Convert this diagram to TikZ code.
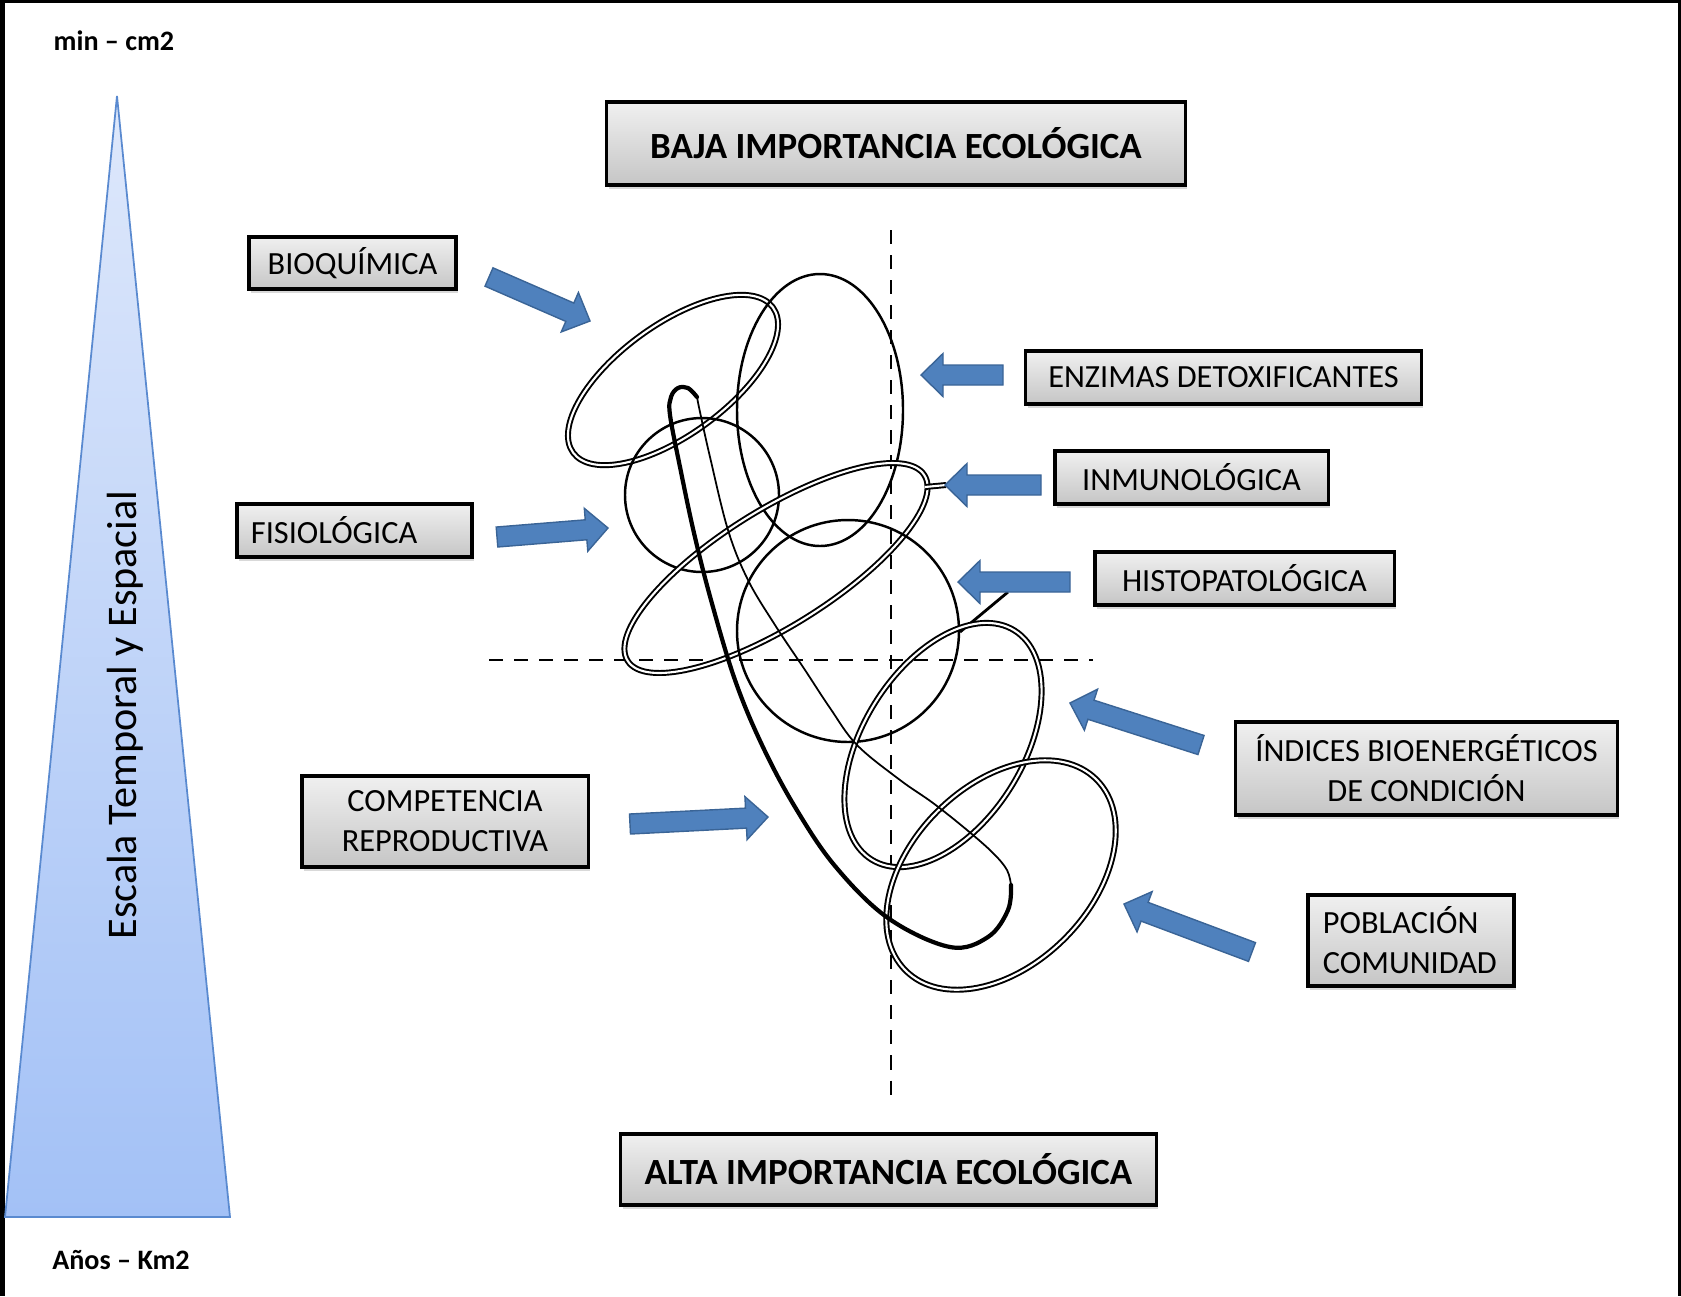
\documentclass[tikz,border=0pt]{standalone}
\usepackage{fontspec}
\setmainfont{Carlito}
\usetikzlibrary{calc,shadows}

\definecolor{azulflecha}{HTML}{4F81BD}
\definecolor{bordeflecha}{HTML}{3A6496}
\definecolor{azulclaro}{HTML}{DEE8FB}
\definecolor{azulfuerte}{HTML}{A3C1F6}
\definecolor{bordeazul}{HTML}{5A8AD0}

% flecha de bloque desde #1 hasta #2
\newcommand{\flecha}[2]{%
  \coordinate (fh) at ($(#2)!0.22cm!(#1)$);
  \filldraw[fill=azulflecha, draw=bordeflecha, line width=0.4pt]
    ($(#1)!0.10cm!90:(#2)$) -- ($(fh)!0.10cm!-90:(#1)$) -- ($(fh)!0.215cm!-90:(#1)$)
    -- (#2) -- ($(fh)!0.215cm!90:(#1)$) -- ($(fh)!0.10cm!90:(#1)$)
    -- ($(#1)!0.10cm!-90:(#2)$) -- cycle;
}

\begin{document}
\begin{tikzpicture}[x=0.01cm, y=-0.01cm,
    caja/.style={draw, line width=0.9pt, top color=gray!12, bottom color=gray!45,
      inner sep=0pt, align=center, font=\fontsize{9.2}{11.4}\selectfont,
      drop shadow={shadow xshift=0.6pt, shadow yshift=-1.2pt, opacity=0.3}},
    titulo/.style={font=\bfseries\fontsize{10.5}{12}\selectfont},
    doble/.style={draw, line width=0.55pt, double=white, double distance=0.6pt},
    linea/.style={draw, line width=0.7pt},
    eje/.style={dash pattern=on 0.14cm off 0.11cm, line width=0.6pt}]

    \useasboundingbox (0,0) rectangle (1681,1296);

    % marco
    \fill (0,0) rectangle (5,1296);
    \fill (0,0) rectangle (1681,3);
    \fill (1678,0) rectangle (1681,1296);

    % escala temporal y espacial
    \filldraw[top color=azulclaro, bottom color=azulfuerte, draw=bordeazul, line width=0.5pt]
        (117,96) -- (230,1217) -- (5,1217) -- cycle;
    \node[rotate=90, font=\fontsize{12}{14}\selectfont] (escala) at (125,715) {Escala Temporal y Espacial};
    \node[font=\bfseries\fontsize{8}{10}\selectfont] (minimo) at (114,41) {min – cm2};
    \node[font=\bfseries\fontsize{8}{10}\selectfont] (maximo) at (121,1260) {Años – Km2};

    % ejes
    \draw[eje] (891,230) -- (891,1104);
    \draw[eje] (489,660) -- (1093,660);

    % niveles de respuesta
    \draw[doble, rotate around={36:(673,380)}] (673,380) ellipse [x radius=123.5, y radius=55];
    \draw[linea] (820,410) ellipse [x radius=83, y radius=136];
    \draw[linea] (702,495) circle [radius=77];
    \draw[doble, rotate around={32:(776,568)}] (776,568) ellipse [x radius=175, y radius=58];
    \draw[doble] (925,487) -- (946,485);
    \draw[linea] (848,631) circle [radius=111];
    \draw[line width=0.8pt] (1008,592) -- (960,632);
    \draw[doble, rotate around={58:(943,745)}] (943,745) ellipse [x radius=135, y radius=80];
    \draw[doble, rotate around={45:(1001,875)}] (1001,875) ellipse [x radius=135, y radius=90];

    % competencia reproductiva
    \draw[line width=1.2pt, line cap=round] plot[smooth, tension=0.6] coordinates {
        (697,397) (688,388) (678,388) (671,397) (670,415) (680,467) (694,533) (711,600)
        (735,680) (762,745) (795,807) (835,866) (888,918) (950,947) (988,937) (1008,910) (1011,885)};
    \draw[line width=0.5pt] plot[smooth, tension=0.6] coordinates {
        (1011,885) (1007,870) (993,853) (967,830) (933,803) (900,780) (857,745) (830,708)
        (805,670) (775,625) (748,580) (728,530) (710,457) (700,412) (697,397)};

    % cajas
    \node[caja, titulo, minimum width=5.78cm, minimum height=0.83cm] (baja) at (896,143.5) {BAJA IMPORTANCIA ECOLÓGICA};
    \node[caja, titulo, minimum width=5.35cm, minimum height=0.71cm] (alta) at (888.5,1169.5) {ALTA IMPORTANCIA ECOLÓGICA};
    \node[caja, minimum width=2.07cm, minimum height=0.52cm] (bioq) at (352.5,263) {BIOQUÍMICA};
    \node[caja, minimum width=2.35cm, minimum height=0.53cm, text width=2.07cm, align=left] (fisio) at (354.5,530.5) {FISIOLÓGICA};
    \node[caja, minimum width=2.86cm, minimum height=0.91cm] (comp) at (445,821.5) {COMPETENCIA\\REPRODUCTIVA};
    \node[caja, minimum width=3.95cm, minimum height=0.53cm] (enz) at (1223.5,377.5) {ENZIMAS DETOXIFICANTES};
    \node[caja, minimum width=2.73cm, minimum height=0.53cm] (inmun) at (1191.5,477.5) {INMUNOLÓGICA};
    \node[caja, minimum width=2.99cm, minimum height=0.53cm] (histo) at (1244.5,578.5) {HISTOPATOLÓGICA};
    \node[caja, minimum width=3.81cm, minimum height=0.93cm] (indices) at (1426.5,768.5) {ÍNDICES BIOENERGÉTICOS\\DE CONDICIÓN};
    \node[caja, minimum width=2.06cm, minimum height=0.91cm, text width=1.76cm, align=left] (pobl) at (1411,940.5) {POBLACIÓN\\COMUNIDAD};

    % flechas
    \coordinate (bioq-a) at (489,277);    \coordinate (bioq-b) at (590,321);
    \coordinate (fisio-a) at (497,537);   \coordinate (fisio-b) at (608,528);
    \coordinate (comp-a) at (630,824);    \coordinate (comp-b) at (768,817);
    \coordinate (enz-a) at (1003,375);    \coordinate (enz-b) at (921,375);
    \coordinate (inmun-a) at (1041,485);  \coordinate (inmun-b) at (945,485);
    \coordinate (histo-a) at (1070,582);  \coordinate (histo-b) at (958,582);
    \coordinate (indices-a) at (1201,745); \coordinate (indices-b) at (1070,703);
    \coordinate (pobl-a) at (1252,952);   \coordinate (pobl-b) at (1124,904);
    \foreach \n in {bioq,fisio,comp,enz,inmun,histo,indices,pobl}
        {\flecha{\n-a}{\n-b}}
\end{tikzpicture}
\end{document}
